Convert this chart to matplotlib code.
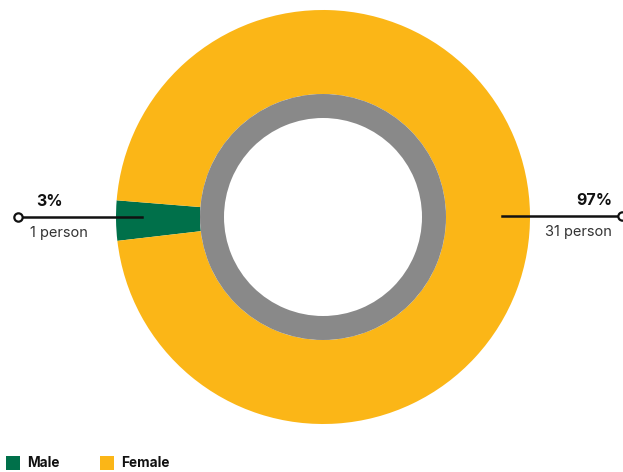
import matplotlib
matplotlib.use("Agg")
import matplotlib.pyplot as plt
from matplotlib.patches import Wedge, Rectangle

categories = ["Male", "Female"]
counts = [1, 31]
pct_labels = ["3%", "97%"]
count_labels = ["1 person", "31 person"]
colors = ["#00704A", "#FBB617"]
ring_color = "#898989"

W, H = 623, 472
fig = plt.figure(figsize=(W / 100, H / 100), dpi=100)
ax = fig.add_axes([0, 0, 1, 1])

cx, cy = 323, H - 217
R_out, R_mid, R_in = 207, 123, 99

total = sum(counts)
male_angle = 360 * counts[0] / total
start = 181 - male_angle / 2
ax.pie(counts, colors=colors, startangle=start, counterclock=True,
       radius=R_out, center=(cx, cy), wedgeprops=dict(width=R_out - R_mid, linewidth=0))
ax.add_patch(Wedge((cx, cy), R_mid, 0, 360, width=R_mid - R_in, facecolor=ring_color, linewidth=0))

ax.set_xlim(0, W)
ax.set_ylim(0, H)
ax.set_aspect("equal")
ax.axis("off")

fam = ["Inter", "DejaVu Sans"]
# left annotation (Male)
ly = H - 217
ax.plot([18, 142], [ly, ly], color="#111111", lw=1.8, zorder=5)
ax.plot([18], [ly], marker="o", ms=6, mfc="white", mec="#111111", mew=1.6, zorder=6)
ax.text(36, ly + 8, pct_labels[0], fontsize=11.5, fontweight="bold", family=fam, ha="left", va="bottom", color="#111111")
ax.text(30, ly - 9, count_labels[0], fontsize=10.5, family=fam, ha="left", va="top", color="#333333")

# right annotation (Female)
ry = H - 216
ax.plot([502, 623], [ry, ry], color="#111111", lw=1.8, zorder=5)
ax.plot([622], [ry], marker="o", ms=6, mfc="white", mec="#111111", mew=1.6, zorder=6, clip_on=False)
ax.text(612, ry + 8, pct_labels[1], fontsize=11.5, fontweight="bold", family=fam, ha="right", va="bottom", color="#111111")
ax.text(612, ry - 9, count_labels[1], fontsize=10.5, family=fam, ha="right", va="top", color="#333333")

# legend
lx = [6, 100]
for x0, c, name in zip(lx, colors, categories):
    ax.add_patch(Rectangle((x0, H - 470), 14, 14, facecolor=c, linewidth=0))
    ax.text(x0 + 21, H - 463, name, fontsize=9.8, fontweight="bold", family=fam, ha="left", va="center", color="#111111")

fig.savefig("out.png", dpi=100)
